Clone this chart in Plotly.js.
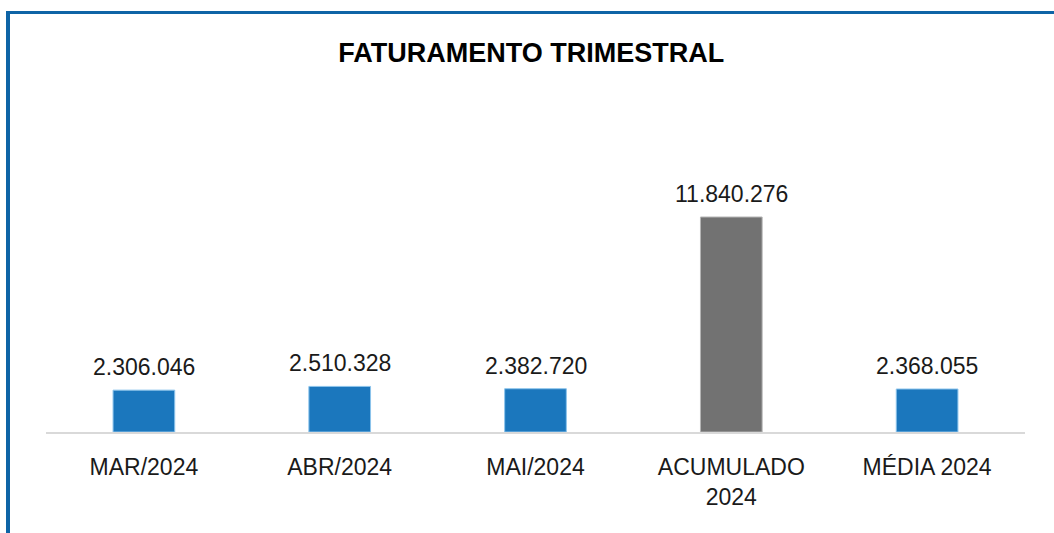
<!DOCTYPE html>
<html>
<head>
<meta charset="utf-8">
<script src="https://cdn.plot.ly/plotly-3.0.1.min.js"></script>
<style>
  html, body { margin: 0; padding: 0; background: #ffffff; }
  #wrap { position: relative; width: 1054px; height: 533px; overflow: hidden; }
  #chart { position: absolute; left: 0; top: 0; width: 1054px; height: 533px; }
  #frame { position: absolute; left: 6px; top: 11px; width: 1060px; height: 540px;
           border-top: 3px solid #0e64a6; border-left: 4px solid #0e64a6; pointer-events: none; }
</style>
</head>
<body>
<div id="wrap">
  <div id="chart"></div>
  <div id="frame"></div>
</div>
<script>
const categories = ["MAR/2024", "ABR/2024", "MAI/2024", "ACUMULADO<br>2024", "MÉDIA 2024"];
const values = [2306046, 2510328, 2382720, 11840276, 2368055];
const valueLabels = ["2.306.046", "2.510.328", "2.382.720", "11.840.276", "2.368.055"];
const barColors = ["#1b77bd", "#1b77bd", "#1b77bd", "#727272", "#1b77bd"];
const barEdges = ["#8cc4ec", "#8cc4ec", "#8cc4ec", "#b5b5b5", "#8cc4ec"];

const font = "'Liberation Sans', Arial, sans-serif";

const trace = {
  type: "bar",
  x: categories,
  y: values,
  marker: { color: barColors, line: { color: barEdges, width: 1 } },
  width: 0.315,
  hoverinfo: "x+y"
};

const annotations = categories.map((c, i) => ({
  x: c,
  y: values[i],
  xref: "x",
  yref: "y",
  text: valueLabels[i],
  showarrow: false,
  yanchor: "bottom",
  yshift: 8,
  font: { family: font, size: 23, color: "#1a1a1a" }
}));

const layout = {
  width: 1054,
  height: 533,
  margin: { l: 46, r: 29, t: 150, b: 101 },
  paper_bgcolor: "#ffffff",
  plot_bgcolor: "#ffffff",
  showlegend: false,
  annotations: annotations,
  title: {
    text: "<b>FATURAMENTO TRIMESTRAL</b>",
    font: { family: font, size: 27, color: "#000000" },
    x: 0.504, xanchor: "center",
    y: 0.902, yanchor: "middle"
  },
  xaxis: {
    type: "category",
    showline: true,
    linecolor: "#d9d9d9",
    linewidth: 2,
    ticks: "",
    showgrid: false,
    zeroline: false,
    tickfont: { family: font, size: 23, color: "#1a1a1a" },
    ticklabelstandoff: 13
  },
  yaxis: {
    range: [0, 15530000],
    visible: false,
    showgrid: false,
    zeroline: false
  }
};

Plotly.newPlot("chart", [trace], layout, { displayModeBar: false, staticPlot: true });
</script>
</body>
</html>
